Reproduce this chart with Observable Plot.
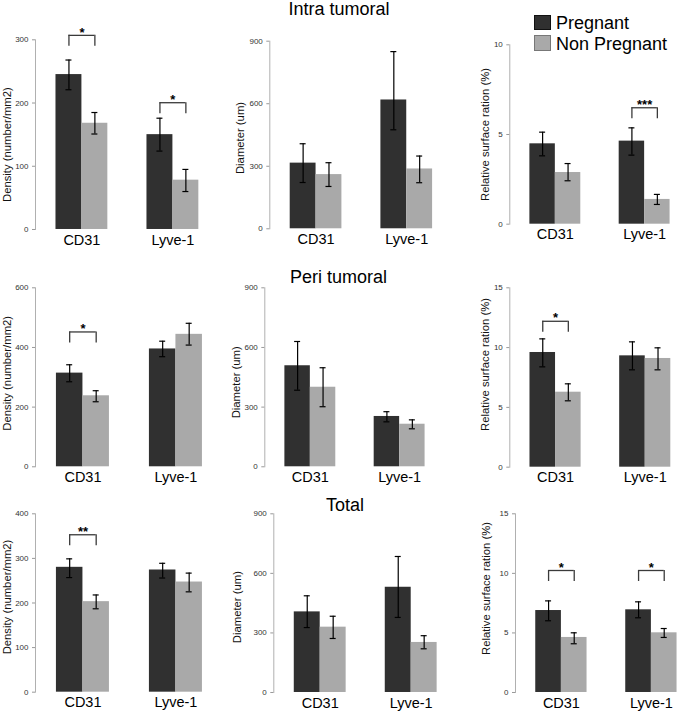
<!DOCTYPE html>
<html>
<head>
<meta charset="utf-8">
<script src="https://cdn.jsdelivr.net/npm/d3@7"></script>
<script src="https://cdn.jsdelivr.net/npm/@observablehq/plot@0.6"></script>
<style>
html, body { margin: 0; padding: 0; background: #fff; overflow: hidden; }
#chart { position: relative; width: 678px; height: 711px; overflow: hidden; font-family: "Liberation Sans", Arial, sans-serif; }
#chart svg { max-width: none !important; background: transparent !important; overflow: visible; }
.panel { position: absolute; }
.title { position: absolute; font-size: 18px; line-height: 18px; color: #000; white-space: nowrap; transform: translateX(-50%); }
.legtext { position: absolute; font-size: 18px; line-height: 18px; color: #000; white-space: nowrap; }
.swatch { position: absolute; width: 15px; height: 13.6px; }
</style>
</head>
<body>
<div id="chart"></div>
<script>
// ---------- data ----------
const categories = ["CD31", "Lyve-1"];
const groups = ["Pregnant", "Non Pregnant"];
const regions = ["Intra tumoral", "Peri tumoral", "Total"];
const measures = ["Density (number/mm2)", "Diameter (um)", "Relative surface ration (%)"];

// order in each array: CD31 Pregnant, CD31 Non Pregnant, Lyve-1 Pregnant, Lyve-1 Non Pregnant
const intraDensityMean = [245, 168, 150, 78];
const intraDensityLow  = [221, 151, 124, 60];
const intraDensityHigh = [268, 185, 176, 95];
const intraDiameterMean = [315, 260, 618, 287];
const intraDiameterLow  = [222, 203, 475, 221];
const intraDiameterHigh = [408, 317, 850, 349];
const intraSurfaceMean = [4.48, 2.88, 4.63, 1.38];
const intraSurfaceLow  = [3.81, 2.42, 3.85, 1.10];
const intraSurfaceHigh = [5.13, 3.38, 5.37, 1.66];

const periDensityMean = [314, 238, 395, 444];
const periDensityLow  = [285, 218, 369, 408];
const periDensityHigh = [342, 255, 421, 481];
const periDiameterMean = [508, 400, 253, 214];
const periDiameterLow  = [385, 302, 226, 191];
const periDiameterHigh = [630, 498, 277, 236];
const periSurfaceMean = [9.59, 6.27, 9.31, 9.09];
const periSurfaceLow  = [8.39, 5.55, 8.14, 8.14];
const periSurfaceHigh = [10.73, 6.97, 10.48, 9.98];

const totalDensityMean = [280, 203, 274, 247];
const totalDensityLow  = [257, 187, 256, 225];
const totalDensityHigh = [299, 218, 289, 267];
const totalDiameterMean = [406, 329, 530, 252];
const totalDiameterLow  = [327, 272, 378, 220];
const totalDiameterHigh = [487, 384, 685, 286];
const totalSurfaceMean = [6.88, 4.62, 6.94, 5.01];
const totalSurfaceLow  = [6.02, 4.09, 6.27, 4.62];
const totalSurfaceHigh = [7.69, 5.01, 7.61, 5.37];

// y-axis ticks
const intraDensityTicks = [0, 100, 200, 300];
const periDensityTicks = [0, 200, 400, 600];
const totalDensityTicks = [0, 100, 200, 300, 400];
const diameterTicks = [0, 300, 600, 900];
const intraSurfaceTicks = [0, 5, 10];
const surfaceTicks = [0, 5, 10, 15];

// significance brackets (bracket level in data units)
const intraDensitySig = [{category: "CD31", level: 307, label: "*"}, {category: "Lyve-1", level: 200.5, label: "*"}];
const intraSurfaceSig = [{category: "Lyve-1", level: 6.49, label: "***"}];
const periDensitySig = [{category: "CD31", level: 452, label: "*"}];
const periSurfaceSig = [{category: "CD31", level: 12.2, label: "*"}];
const totalDensitySig = [{category: "CD31", level: 353, label: "**"}];
const totalSurfaceSig = [{category: "CD31", level: 10.24, label: "*"}, {category: "Lyve-1", level: 10.24, label: "*"}];

// ---------- styling / layout ----------
const colors = ["#303030", "#a9a9a9"];
const PI = 0.43, PO = 0.225;
const rows = [{top: 0, h: 250}, {top: 250, h: 240}, {top: 490, h: 221}];

const panels = [
  {row: 0, measure: 0, mean: intraDensityMean, low: intraDensityLow, high: intraDensityHigh, ticks: intraDensityTicks, sig: intraDensitySig,
   L: {left: 0, ml: 35, mt: 39.3, mb: 21, step: 91, ldx: -28, ldy: 10}},
  {row: 0, measure: 1, mean: intraDiameterMean, low: intraDiameterLow, high: intraDiameterHigh, ticks: diameterTicks, sig: [],
   L: {left: 220, ml: 49.3, mt: 40.7, mb: 21.7, step: 90.7, ldx: -29, ldy: 3}},
  {row: 0, measure: 2, mean: intraSurfaceMean, low: intraSurfaceLow, high: intraSurfaceHigh, ticks: intraSurfaceTicks, sig: intraSurfaceSig,
   L: {left: 450, ml: 59.3, mt: 44.3, mb: 26.3, step: 89.3, ldx: -24, ldy: 0}},
  {row: 1, measure: 0, mean: periDensityMean, low: periDensityLow, high: periDensityHigh, ticks: periDensityTicks, sig: periDensitySig,
   L: {left: 0, ml: 35, mt: 37.3, mb: 23.7, step: 93, ldx: -28, ldy: -4}},
  {row: 1, measure: 1, mean: periDiameterMean, low: periDiameterLow, high: periDiameterHigh, ticks: diameterTicks, sig: [],
   L: {left: 220, ml: 44.3, mt: 37.3, mb: 23.7, step: 89.3, ldx: -28, ldy: 5}},
  {row: 1, measure: 2, mean: periSurfaceMean, low: periSurfaceLow, high: periSurfaceHigh, ticks: surfaceTicks, sig: periSurfaceSig,
   L: {left: 450, ml: 59.3, mt: 37.3, mb: 23.3, step: 89.7, ldx: -24, ldy: -13}},
  {row: 2, measure: 0, mean: totalDensityMean, low: totalDensityLow, high: totalDensityHigh, ticks: totalDensityTicks, sig: totalDensitySig,
   L: {left: 0, ml: 35, mt: 23.3, mb: 19.3, step: 93, ldx: -28, ldy: -6}},
  {row: 2, measure: 1, mean: totalDiameterMean, low: totalDiameterLow, high: totalDiameterHigh, ticks: diameterTicks, sig: [],
   L: {left: 220, ml: 53.3, mt: 23.3, mb: 19, step: 91, ldx: -36, ldy: 4}},
  {row: 2, measure: 2, mean: totalSurfaceMean, low: totalSurfaceLow, high: totalSurfaceHigh, ticks: surfaceTicks, sig: totalSurfaceSig,
   L: {left: 450, ml: 65, mt: 23.3, mb: 19, step: 90, ldx: -29, ldy: -14.6}}
];

const chart = document.getElementById("chart");
const FONT = "Liberation Sans, Arial, sans-serif";

function renderPanel(p) {
  const L = p.L, R = rows[p.row];
  const range = L.step * (categories.length - PI + 2 * PO);
  const W = L.ml + range;
  const band = d3.scaleBand().domain(categories).range([L.ml, W]).paddingInner(PI).paddingOuter(PO);
  const half = band.bandwidth() / 2;
  const q = half / 2;
  const cap = 3;
  const data = categories.flatMap((c, ci) => groups.map((g, gi) => ({
    category: c, group: g,
    mean: p.mean[ci * 2 + gi], low: p.low[ci * 2 + gi], high: p.high[ci * 2 + gi]
  })));
  const P = data.filter(d => d.group === groups[0]);
  const N = data.filter(d => d.group === groups[1]);
  const errStyle = {stroke: "#000", strokeWidth: 1.2};
  const brStyle = {stroke: "#3a3a3a", strokeWidth: 1.3};
  const yMax = p.ticks[p.ticks.length - 1];
  const svg = Plot.plot({
    width: W, height: R.h,
    marginLeft: L.ml, marginRight: 0, marginTop: L.mt, marginBottom: L.mb,
    style: {fontFamily: FONT, background: "transparent", overflow: "visible"},
    x: {type: "band", domain: categories, paddingInner: PI, paddingOuter: PO, round: false, axis: null},
    y: {domain: [0, yMax], axis: null},
    marks: [
      Plot.barY(P, {x: "category", y: "mean", fill: colors[0], insetRight: half}),
      Plot.barY(N, {x: "category", y: "mean", fill: colors[1], insetLeft: half}),
      Plot.ruleX(P, {x: "category", y1: "low", y2: "high", dx: -q, ...errStyle}),
      Plot.ruleX(N, {x: "category", y1: "low", y2: "high", dx: q, ...errStyle}),
      Plot.tickY(P, {x: "category", y: "high", insetLeft: q - cap, insetRight: half + q - cap, ...errStyle}),
      Plot.tickY(P, {x: "category", y: "low", insetLeft: q - cap, insetRight: half + q - cap, ...errStyle}),
      Plot.tickY(N, {x: "category", y: "high", insetLeft: half + q - cap, insetRight: q - cap, ...errStyle}),
      Plot.tickY(N, {x: "category", y: "low", insetLeft: half + q - cap, insetRight: q - cap, ...errStyle}),
      Plot.tickY(p.sig, {x: "category", y: "level", insetLeft: q, insetRight: q, ...brStyle}),
      Plot.ruleX(p.sig, {x: "category", y1: "level", y2: "level", dx: -q, insetBottom: -11, ...brStyle}),
      Plot.ruleX(p.sig, {x: "category", y1: "level", y2: "level", dx: q, insetBottom: -11, ...brStyle}),
      Plot.text(p.sig, {x: "category", y: "level", text: "label", dy: -3, fontSize: 13, fontWeight: "bold", fill: "#000"}),
      Plot.frame({anchor: "left", stroke: "#b0b0b0"}),
      Plot.axisY({ticks: p.ticks, tickSize: 3, tickPadding: 4, fontSize: 8, stroke: "#999", fill: "#333", label: null}),
      Plot.axisX({tickSize: 0, tickPadding: 5, fontSize: 14.5, fill: "#000", label: null}),
      Plot.text([measures[p.measure]], {frameAnchor: "left", textAnchor: "middle", lineAnchor: "middle", rotate: -90, dx: L.ldx, dy: L.ldy, fontSize: 11.3, fill: "#111"})
    ]
  });
  const div = document.createElement("div");
  div.className = "panel";
  div.style.left = L.left + "px";
  div.style.top = R.top + "px";
  div.appendChild(svg);
  chart.appendChild(div);
}
panels.forEach(renderPanel);

// titles
const titlePos = [{x: 339, top: -0.2}, {x: 338.5, top: 267.8}, {x: 345, top: 495.8}];
regions.forEach((t, i) => {
  const d = document.createElement("div");
  d.className = "title";
  d.textContent = t;
  d.style.left = titlePos[i].x + "px";
  d.style.top = titlePos[i].top + "px";
  chart.appendChild(d);
});

// legend
const legendPos = [{sy: 14.7, ty: 14}, {sy: 35.3, ty: 34.8}];
const legendBorder = ["#111", "#777"];
groups.forEach((g, i) => {
  const s = document.createElement("div");
  s.className = "swatch";
  s.style.left = "534px";
  s.style.top = legendPos[i].sy + "px";
  s.style.background = colors[i];
  s.style.border = "1px solid " + legendBorder[i];
  chart.appendChild(s);
  const t = document.createElement("div");
  t.className = "legtext";
  t.textContent = g;
  t.style.left = "556px";
  t.style.top = legendPos[i].ty + "px";
  chart.appendChild(t);
});
</script>
</body>
</html>
